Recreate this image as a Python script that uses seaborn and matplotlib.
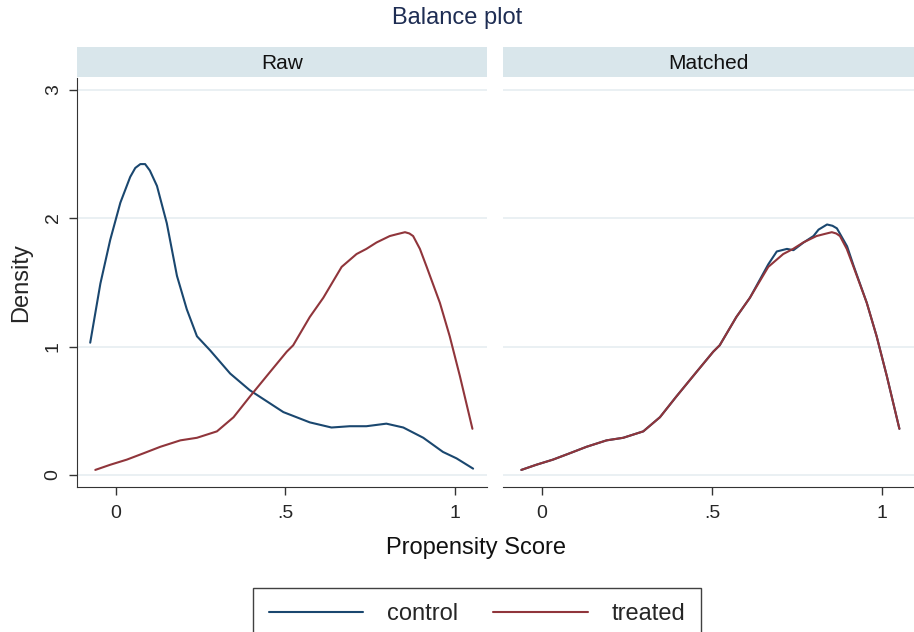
import matplotlib
matplotlib.use("Agg")
import matplotlib.pyplot as plt
import seaborn as sns
import pandas as pd

# density curves (propensity score vs density)
treated_x = [-0.061, -0.017, 0.032, 0.082, 0.131, 0.190, 0.239, 0.298, 0.347, 0.395,
             0.454, 0.504, 0.523, 0.572, 0.612, 0.666, 0.710, 0.739, 0.769, 0.808,
             0.830, 0.853, 0.866, 0.877, 0.897, 0.917, 0.956, 0.985, 1.015, 1.052]
treated_y = [0.04, 0.08, 0.12, 0.17, 0.22, 0.27, 0.29, 0.34, 0.45, 0.61,
             0.80, 0.96, 1.01, 1.23, 1.38, 1.62, 1.72, 1.76, 1.81, 1.86,
             1.875, 1.89, 1.88, 1.86, 1.76, 1.62, 1.34, 1.08, 0.77, 0.36]

control_raw_x = [-0.076, -0.046, -0.017, 0.013, 0.042, 0.057, 0.072, 0.086, 0.100, 0.121,
                 0.150, 0.180, 0.209, 0.239, 0.278, 0.337, 0.395, 0.494, 0.572, 0.636,
                 0.690, 0.739, 0.798, 0.848, 0.907, 0.965, 1.005, 1.054]
control_raw_y = [1.03, 1.49, 1.83, 2.12, 2.32, 2.39, 2.42, 2.42, 2.37, 2.25,
                 1.96, 1.55, 1.29, 1.08, 0.97, 0.79, 0.66, 0.49, 0.41, 0.37,
                 0.38, 0.38, 0.40, 0.37, 0.29, 0.18, 0.13, 0.05]

control_matched_x = [-0.061, -0.017, 0.032, 0.082, 0.131, 0.190, 0.239, 0.298, 0.347, 0.395,
                     0.454, 0.504, 0.523, 0.572, 0.612, 0.666, 0.691, 0.721, 0.740, 0.770,
                     0.799, 0.814, 0.839, 0.855, 0.868, 0.898, 0.917, 0.956, 0.985, 1.015,
                     1.052]
control_matched_y = [0.04, 0.08, 0.12, 0.17, 0.22, 0.27, 0.29, 0.34, 0.45, 0.61,
                     0.80, 0.96, 1.01, 1.23, 1.38, 1.64, 1.74, 1.76, 1.75, 1.81,
                     1.86, 1.91, 1.95, 1.94, 1.92, 1.78, 1.63, 1.34, 1.08, 0.77,
                     0.36]

panels = ["Raw", "Matched"]
groups = ["control", "treated"]
x_ticks = [0, 0.5, 1]
x_tick_labels = ["0", ".5", "1"]
y_ticks = [0, 1, 2, 3]

navy = "#1a476f"
maroon = "#90353b"
palette = {"control": navy, "treated": maroon}


def curves(panel):
    if panel == "Raw":
        cx, cy = control_raw_x, control_raw_y
    else:
        cx, cy = control_matched_x, control_matched_y
    df_c = pd.DataFrame({"score": cx, "density": cy, "group": "control"})
    df_t = pd.DataFrame({"score": treated_x, "density": treated_y, "group": "treated"})
    return pd.concat([df_c, df_t], ignore_index=True)


sns.set_style("white")
plt.rcParams["font.family"] = ["Liberation Sans", "DejaVu Sans"]

fig = plt.figure(figsize=(9.14, 6.32), dpi=100)
W, H = 914, 632

axes = []
for i, panel in enumerate(panels):
    x0 = 77 if i == 0 else 503
    x1 = 487 if i == 0 else 914
    ax = fig.add_axes([x0 / W, 1 - 487 / H, (x1 - x0) / W, (487 - 78) / H])
    data = curves(panel)
    sns.lineplot(data=data, x="score", y="density", hue="group", palette=palette,
                 hue_order=groups, units="group", estimator=None, sort=False,
                 linewidth=1.5, ax=ax, legend=False)
    ax.set_xlim(-0.115, 1.095)
    ax.set_ylim(-0.093, 3.09)
    ax.set_yticks(y_ticks)
    ax.set_xticks(x_ticks)
    ax.set_xticklabels(x_tick_labels)
    for yv in y_ticks:
        ax.axhline(yv, color="#e6eef1", lw=1.2, zorder=0)
    for s in ["top", "right"]:
        ax.spines[s].set_visible(False)
    ax.spines["bottom"].set_color("#333333")
    ax.spines["left"].set_color("#333333")
    ax.tick_params(axis="x", direction="out", length=6, width=1, color="#333333",
                   labelsize=14, pad=7, bottom=True)
    if i == 0:
        ax.tick_params(axis="y", direction="out", length=6, width=1, color="#333333",
                       labelsize=14, pad=5, left=True)
        for lab in ax.get_yticklabels():
            lab.set_rotation(90)
            lab.set_va("center")
        ax.set_ylabel("Density", fontsize=17, labelpad=9)
    else:
        ax.spines["left"].set_visible(False)
        ax.set_yticklabels([])
        ax.tick_params(axis="y", left=False)
        ax.set_ylabel("")
    ax.set_xlabel("")
    axes.append(ax)

    # strip header
    sax = fig.add_axes([x0 / W, 1 - 77 / H, (x1 - x0) / W, 30 / H])
    sax.set_facecolor("#d9e6eb")
    sax.set_xticks([])
    sax.set_yticks([])
    for s in sax.spines.values():
        s.set_visible(False)
    sax.text(0.5, 0.45, panel, ha="center", va="center", fontsize=15, color="#111111",
             transform=sax.transAxes)

fig.text(457 / W, 1 - 18 / H, "Balance plot", ha="center", va="center",
         fontsize=17, color="#1e2d53")
fig.text(476 / W, 1 - 548 / H, "Propensity Score", ha="center", va="center",
         fontsize=17, color="#111111")

handles = [plt.Line2D([], [], color=palette[g], lw=1.5) for g in groups]
leg = fig.legend(handles, groups, loc="upper center", bbox_to_anchor=(477 / W, 1 - 588 / H),
                 ncol=2, frameon=True, fontsize=17, handlelength=4.0, columnspacing=1.5,
                 handletextpad=1.0, borderpad=0.65, borderaxespad=0, fancybox=False)
leg.get_frame().set_edgecolor("#111111")
leg.get_frame().set_linewidth(1.0)

fig.savefig("out.png", dpi=100)
